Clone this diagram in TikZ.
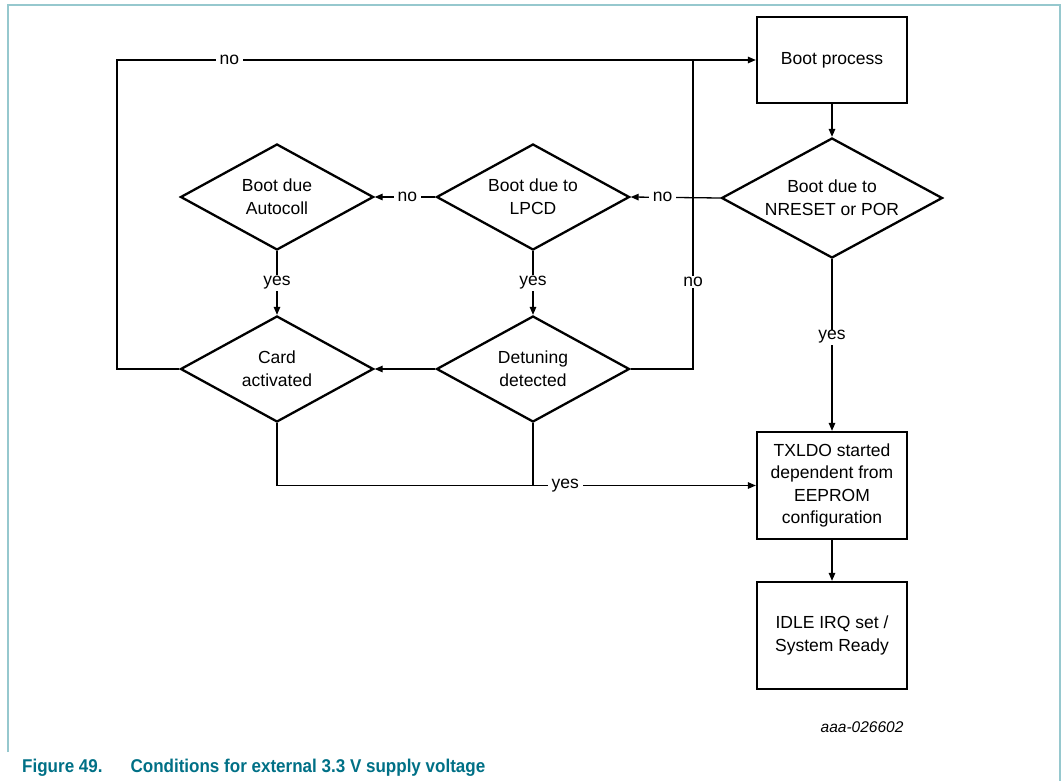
\documentclass[tikz,border=0pt]{standalone}
\usepackage{fontspec}
\setmainfont{Liberation Sans}
\newfontfamily\capfont[FakeStretch=0.92]{Liberation Sans}
\usetikzlibrary{shapes.geometric,arrows.meta}
\definecolor{framecol}{RGB}{150,200,206}
\definecolor{capcol}{RGB}{0,112,134}
\tikzset{
  box/.style={draw, line width=2.3pt, minimum width=150pt, inner sep=0pt, align=center,
              font=\fontsize{17.5}{22.5}\selectfont},
  dia/.style={diamond, draw, line width=2.3pt, aspect=1.82, inner sep=0pt, align=center,
              minimum width=193pt, minimum height=106pt, font=\fontsize{17.5}{23}\selectfont},
  conn/.style={line width=1.3pt, -{Triangle[length=8pt,width=6.5pt]}},
  plain/.style={line width=1.3pt},
  lbl/.style={fill=white, inner xsep=4pt, inner ysep=1pt, font=\fontsize{17.5}{20}\selectfont},
}
\begin{document}
\begin{tikzpicture}[x=1pt,y=-1pt]
\useasboundingbox (0,0) rectangle (1062,781);
\draw[framecol, line width=1.2pt] (8,752) -- (8,5) -- (1060,5) -- (1060,781);

\node[box, minimum height=86pt] (boot) at (832,60) {Boot process};
\node[dia, minimum width=221pt, minimum height=120pt] (nreset) at (832,198) {Boot due to\\NRESET or POR};
\node[dia] (lpcd) at (533,197) {Boot due to\\LPCD};
\node[dia] (auto) at (277,197) {Boot due\\Autocoll};
\node[dia] (card) at (277,369) {Card\\activated};
\node[dia] (detun) at (533,369) {Detuning\\detected};
\node[box, minimum height=107pt] (txldo) at (832,485.5) {TXLDO started\\dependent from\\EEPROM\\configuration};
\node[box, minimum height=107pt] (idle) at (832,635.5) {IDLE IRQ set /\\System Ready};

\coordinate (lx) at (117,369);
\coordinate (jn) at (693,60);

\draw[conn] (boot) -- (nreset);
\draw[conn] (nreset.west) -- node[lbl, pos=0.645] {no} (lpcd.east);
\draw[conn] (lpcd.west) -- node[lbl, pos=0.46] {no} (auto.east);
\draw[conn] (auto.south) -- node[lbl, pos=0.5] {yes} (card.north);
\draw[conn] (lpcd.south) -- node[lbl, pos=0.5] {yes} (detun.north);
\draw[conn] (detun.west) -- (card.east);
\draw[conn] (card.west) -- (lx) |- node[lbl, pos=0.588] {no} (boot.west);
\draw[plain] (detun.east) -| node[lbl, pos=0.641] {no} (jn);
\draw[conn] (card.south) |- node[lbl, pos=0.801] {yes} (txldo.west);
\draw[plain] (detun.south) -- (detun.south |- txldo.west);
\draw[conn] (nreset.south) -- node[lbl, pos=0.454] {yes} (txldo.north);
\draw[conn] (txldo) -- (idle);

\node[anchor=east, font=\fontsize{15.5}{18}\selectfont\itshape] (ref) at (907,727) {aaa-026602};
\node[anchor=base west, inner sep=0pt, text=capcol, font=\capfont\fontsize{18.5}{21}\selectfont\bfseries] (cap) at (22,772)
  {Figure 49.\hspace{28pt}Conditions for external 3.3 V supply voltage};
\end{tikzpicture}
\end{document}
